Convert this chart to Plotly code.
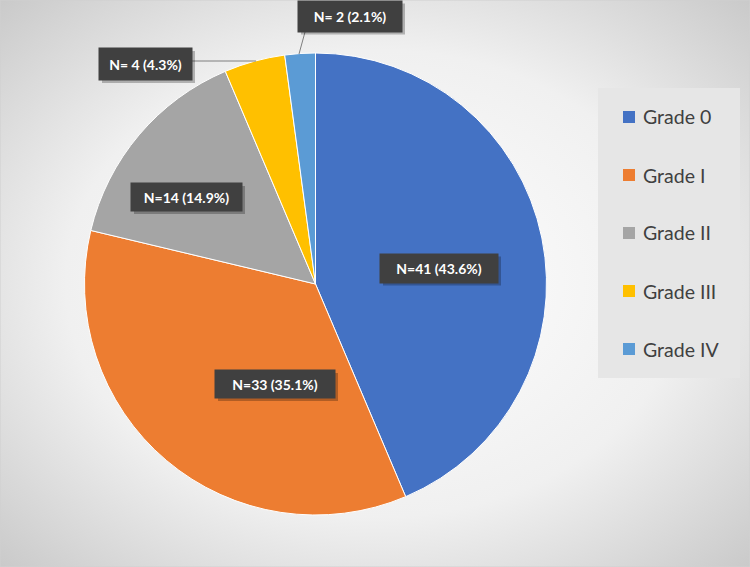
import plotly.graph_objects as go
import urllib.parse

categories = ["Grade 0", "Grade I", "Grade II", "Grade III", "Grade IV"]
counts = [41, 33, 14, 4, 2]
label_texts = ["N=41 (43.6%)", "N=33 (35.1%)", "N=14 (14.9%)", "N= 4 (4.3%)", "N= 2 (2.1%)"]
colors = ["#4472C4", "#ED7D31", "#A5A5A5", "#FFC000", "#5B9BD5"]

W, H = 750, 567

def px(x):
    return x / W

def py(y):
    return 1 - y / H

# label box centers and sizes (pixels)
label_boxes = [
    (439, 268, 118, 29),
    (275, 384, 120, 28),
    (186.5, 197, 111, 28),
    (145.5, 64, 93, 32),
    (350, 16, 104, 31),
]

fig = go.Figure()
fig.add_trace(go.Pie(
    labels=categories,
    values=counts,
    sort=False,
    direction="clockwise",
    rotation=0,
    marker=dict(colors=colors, line=dict(color="#ffffff", width=1)),
    textinfo="none",
    hoverinfo="label+value+percent",
    showlegend=False,
    domain=dict(x=[px(84.5), px(546.5)], y=[py(515), py(53)]),
))

svg = (
    '<svg xmlns="http://www.w3.org/2000/svg" width="750" height="567">'
    '<defs><radialGradient id="g" cx="50%" cy="50%" r="75%">'
    '<stop offset="0%" stop-color="#ffffff"/>'
    '<stop offset="55%" stop-color="#f0f0f0"/>'
    '<stop offset="100%" stop-color="#c4c4c4"/>'
    '</radialGradient></defs>'
    '<rect width="750" height="567" fill="url(#g)"/></svg>'
)
bg_uri = "data:image/svg+xml;charset=utf-8," + urllib.parse.quote(svg)

shapes = []
annotations = []

# outer border
shapes.append(dict(type="rect", xref="paper", yref="paper", x0=0, y0=0, x1=1, y1=1,
                   line=dict(color="#d0d0d0", width=1), fillcolor="rgba(0,0,0,0)", layer="above"))

# leader lines
shapes.append(dict(type="line", xref="paper", yref="paper", x0=px(192), y0=py(61), x1=px(256), y1=py(61),
                   line=dict(color="#7f7f7f", width=1), layer="above"))
shapes.append(dict(type="line", xref="paper", yref="paper", x0=px(305), y0=py(32), x1=px(299), y1=py(54),
                   line=dict(color="#7f7f7f", width=1), layer="above"))

# label boxes
for (cx, cy, bw, bh), t in zip(label_boxes, label_texts):
    shapes.append(dict(type="rect", xref="paper", yref="paper",
                       x0=px(cx - bw / 2 + 3), x1=px(cx + bw / 2 + 3),
                       y0=py(cy + bh / 2 + 3), y1=py(cy - bh / 2 + 3),
                       fillcolor="rgba(0,0,0,0.25)", line=dict(width=0), layer="above"))
    annotations.append(dict(
        x=px(cx), y=py(cy), xref="paper", yref="paper", showarrow=False,
        text="<b>" + t + "</b>", width=bw, height=bh, borderpad=0,
        bgcolor="#404040", font=dict(family="Lato, Carlito, sans-serif", size=14, color="#ffffff"),
        xanchor="center", yanchor="middle", align="center", valign="middle",
    ))

# legend box
shapes.append(dict(type="rect", xref="paper", yref="paper",
                   x0=px(598), x1=px(740), y0=py(378), y1=py(88),
                   fillcolor="#e6e6e6", line=dict(width=0), layer="below"))
legend_y = [117 + i * 58 for i in range(5)]
for cat, col, ly in zip(categories, colors, legend_y):
    shapes.append(dict(type="rect", xref="paper", yref="paper",
                       x0=px(623), x1=px(635), y0=py(ly + 6), y1=py(ly - 6),
                       fillcolor=col, line=dict(width=0), layer="above"))
    annotations.append(dict(
        x=px(641), y=py(ly), xref="paper", yref="paper", showarrow=False,
        text=cat, xanchor="left", yanchor="middle",
        font=dict(family="Lato, Carlito, sans-serif", size=19.5, color="#404040"),
    ))

fig.update_layout(
    width=W, height=H,
    margin=dict(l=0, r=0, t=0, b=0),
    paper_bgcolor="#ececec",
    plot_bgcolor="rgba(0,0,0,0)",
    images=[dict(source=bg_uri, xref="paper", yref="paper", x=0, y=1, sizex=1, sizey=1,
                 xanchor="left", yanchor="top", sizing="stretch", layer="below")],
    shapes=shapes,
    annotations=annotations,
)

fig.write_html("out.html")
